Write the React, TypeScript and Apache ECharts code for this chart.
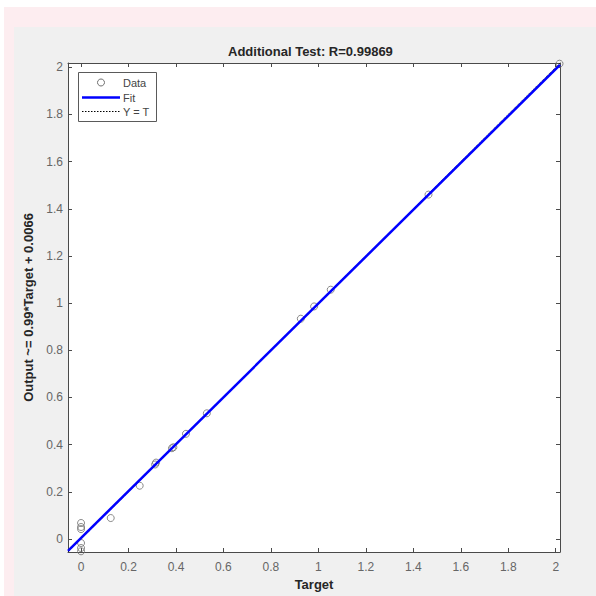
import React, { useEffect, useRef } from "react";
import * as echarts from "echarts";

// Data
const targets = [2.016, 1.464, 1.052, 0.982, 0.926, 0.53, 0.442, 0.389, 0.383, 0.316, 0.312, 0.247, 0.125, 0, 0, 0, 0, 0, 0];
const outputs = [2.015, 1.46, 1.057, 0.986, 0.934, 0.533, 0.446, 0.389, 0.385, 0.324, 0.316, 0.226, 0.089, 0.068, 0.051, 0.042, -0.017, -0.038, -0.052];
const fitX = [-0.055, 2.018];
const fitY = [-0.05, 2.01];
const identityX = [-0.055, 2.018];
const identityY = [-0.055, 2.018];
const tickValues = [0, 0.2, 0.4, 0.6, 0.8, 1, 1.2, 1.4, 1.6, 1.8, 2];
const legendLabels = ["Data", "Fit", "Y = T"];
const titleText = "Additional Test: R=0.99869";
const xName = "Target";
const yName = "Output ~= 0.99*Target + 0.0066";

const AX_MIN = -0.055;
const AX_MAX = 2.018;
const AXIS_COLOR = "#4a4a4a";
const LABEL_COLOR = "#666666";
const FONT = "'Liberation Sans', Arial, sans-serif";

const G = { left: 68, top: 63, width: 492, height: 489 };

function makeAxis(kind: "x" | "y", position: string, primary: boolean) {
  return {
    type: "value",
    position,
    min: AX_MIN,
    max: AX_MAX,
    gridIndex: 0,
    name: primary ? (kind === "x" ? xName : yName) : "",
    nameLocation: "middle",
    nameGap: kind === "x" ? 26 : 29,
    nameTextStyle: { fontFamily: FONT, fontSize: 13, fontWeight: "bold", color: "#262626" },
    axisLine: { show: true, onZero: false, lineStyle: { color: AXIS_COLOR, width: 1 } },
    axisTick: { show: true, inside: true, length: 4, customValues: tickValues, lineStyle: { color: AXIS_COLOR } },
    axisLabel: primary
      ? {
          show: true,
          customValues: tickValues,
          fontFamily: FONT,
          fontSize: 12,
          color: LABEL_COLOR,
          margin: kind === "x" ? 9 : 5,
          formatter: (v: number) => String(Math.round(v * 10) / 10),
        }
      : { show: false },
    splitLine: { show: false },
  };
}

export default function App() {
  const ref = useRef<HTMLDivElement>(null);
  useEffect(() => {
    if (!ref.current) return;
    const chart = echarts.init(ref.current, null, { renderer: "svg" });
    const lx = 78, ly = 72;
    chart.setOption({
      animation: false,
      backgroundColor: "#ffffff",
      title: {
        text: titleText,
        left: 228,
        top: 45,
        padding: 0,
        textStyle: { fontFamily: FONT, fontSize: 13, fontWeight: "bold", color: "#262626" },
      },
      grid: { ...G, show: true, backgroundColor: "#ffffff", borderWidth: 0, containLabel: false },
      xAxis: [makeAxis("x", "bottom", true), makeAxis("x", "top", false)],
      yAxis: [makeAxis("y", "left", true), makeAxis("y", "right", false)],
      series: [
        {
          name: legendLabels[0],
          type: "scatter",
          z: 2,
          symbol: "circle",
          symbolSize: 7,
          itemStyle: { color: "rgba(0,0,0,0)", borderColor: "#6e6e6e", borderWidth: 1 },
          data: targets.map((t, i) => [t, outputs[i]]),
        },
        {
          name: legendLabels[2],
          type: "line",
          z: 3,
          showSymbol: false,
          symbol: "none",
          lineStyle: { color: "#000000", width: 1, type: "dotted" },
          data: identityX.map((x, i) => [x, identityY[i]]),
        },
        {
          name: legendLabels[1],
          type: "line",
          z: 4,
          showSymbol: false,
          symbol: "none",
          lineStyle: { color: "#0000ff", width: 2.5 },
          data: fitX.map((x, i) => [x, fitY[i]]),
        },
      ],
      graphic: [
        { type: "rect", z: -100, silent: true, shape: { x: 4, y: 7, width: 592, height: 589 }, style: { fill: "#fdedf0" } },
        { type: "rect", z: -99, silent: true, shape: { x: 14, y: 27, width: 582, height: 569 }, style: { fill: "#f0f0f0" } },
        { type: "rect", z: 100, shape: { x: lx + 0.5, y: ly + 0.5, width: 78, height: 49 }, style: { fill: "#ffffff", stroke: "#5a5a5a", lineWidth: 1 } },
        { type: "circle", z: 101, shape: { cx: 101, cy: 82.5, r: 3.5 }, style: { fill: "none", stroke: "#6e6e6e", lineWidth: 1 } },
        { type: "line", z: 101, shape: { x1: 82, y1: 97.5, x2: 120, y2: 97.5 }, style: { stroke: "#0000ff", lineWidth: 2.5 } },
        { type: "line", z: 101, shape: { x1: 82, y1: 111.5, x2: 120, y2: 111.5 }, style: { stroke: "#000000", lineWidth: 1, lineDash: [1.5, 1.5] } },
        ...legendLabels.map((t, i) => ({
          type: "text",
          z: 101,
          x: 123,
          y: [82.5, 97.5, 111.5][i],
          style: { text: t, font: `11px ${FONT}`, fill: "#444444", textVerticalAlign: "middle", verticalAlign: "middle" },
        })),
      ],
    });
    return () => chart.dispose();
  }, []);
  return (
    <div
      ref={ref}
      style={{ position: "fixed", left: 0, top: 0, width: 596, height: 596, background: "#ffffff" }}
    />
  );
}
